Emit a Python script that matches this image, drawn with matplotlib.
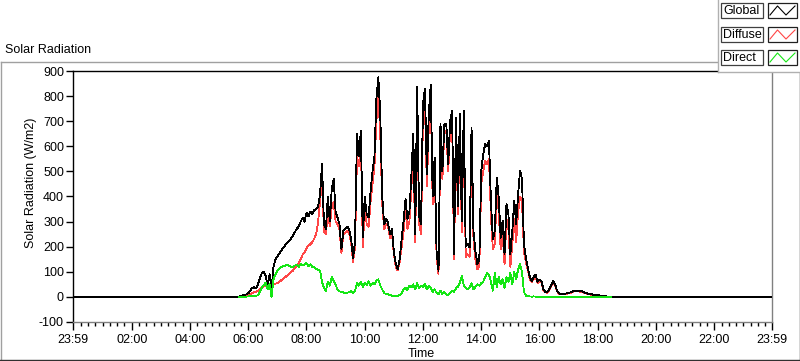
import numpy as np
import matplotlib
matplotlib.use("Agg")
import matplotlib.pyplot as plt
from matplotlib.patches import Rectangle
from matplotlib.lines import Line2D

plt.rcParams['font.family'] = ['Liberation Sans', 'DejaVu Sans']
plt.rcParams['axes.unicode_minus'] = False

# ---------------- data ----------------
day_start = -1          # 23:59 of previous day (minutes from midnight)
day_end = 1439          # 23:59
sample_start = 340      # 05:40
sample_step = 4         # minutes

global_rad = [
    0, 3, 6, 8, 10, 14, 25, 35, 38, 35,
    50, 75, 95, 100, 85, 40, 90, 30, 120, 150,
    160, 172, 185, 195, 205, 215, 222, 232, 245, 258,
    271, 280, 300, 315, 300, 335, 320, 340, 330, 345,
    350, 360, 410, 530, 290, 270, 400, 300, 430, 470,
    340, 316, 290, 190, 265, 270, 280, 270, 230, 155,
    220, 650, 560, 660, 240, 400, 330, 316, 420, 500,
    560, 790, 875, 730, 400, 290, 310, 295, 250, 270,
    180, 130, 110, 150, 230, 300, 390, 310, 340, 480,
    650, 250, 835, 320, 290, 770, 830, 490, 730, 845,
    400, 555, 183, 104, 690, 500, 688, 690, 530, 700,
    740, 170, 714, 360, 728, 300, 740, 200, 210, 197,
    675, 263, 183, 130, 145, 500, 568, 608, 600, 621,
    380, 230, 263, 476, 396, 236, 303, 170, 370, 330,
    170, 263, 383, 290, 410, 502, 470, 210, 157, 117,
    80, 64, 80, 88, 60, 68, 64, 30, 20, 18,
    30, 45, 62, 52, 26, 14, 12, 12, 12, 14,
    16, 18, 22, 24, 24, 24, 23, 22, 18, 16,
    12, 12, 10, 8, 8, 8, 6, 5, 4, 3,
    1, 0, 0,
]

diffuse_rad = [
    0, 2, 4, 6, 8, 10, 12, 15, 18, 20,
    25, 30, 38, 42, 45, 48, 52, 50, 52, 53,
    55, 60, 66, 72, 78, 85, 92, 98, 105, 115,
    123, 135, 150, 168, 178, 195, 203, 210, 218, 232,
    250, 300, 380, 470, 260, 250, 340, 280, 360, 380,
    300, 290, 270, 175, 250, 255, 262, 255, 215, 140,
    200, 560, 520, 630, 200, 360, 290, 280, 380, 450,
    520, 700, 800, 650, 370, 270, 290, 280, 235, 255,
    170, 120, 105, 140, 200, 260, 350, 270, 300, 430,
    600, 220, 780, 290, 250, 720, 770, 440, 680, 800,
    370, 520, 160, 90, 660, 470, 660, 660, 500, 670,
    700, 150, 680, 330, 690, 260, 700, 160, 170, 160,
    620, 230, 150, 110, 120, 450, 500, 540, 530, 550,
    320, 190, 210, 420, 340, 190, 250, 130, 310, 270,
    120, 210, 310, 220, 340, 400, 380, 180, 140, 105,
    72, 58, 72, 80, 55, 60, 58, 26, 18, 16,
    26, 42, 58, 48, 24, 12, 10, 10, 10, 12,
    14, 16, 20, 22, 22, 22, 21, 20, 16, 14,
    10, 10, 8, 7, 7, 7, 5, 4, 3, 2,
    1, 0, 0,
]

direct_rad = [
    0, 0, 0, 1, 1, 2, 3, 5, 4, 3,
    8, 20, 37, 45, 57, 30, 50, 0, 70, 90,
    105, 112, 118, 122, 125, 127, 124, 120, 118, 125,
    128, 120, 132, 126, 130, 135, 122, 130, 120, 118,
    112, 108, 104, 60, 37, 24, 60, 45, 80, 65,
    50, 28, 22, 20, 18, 15, 16, 20, 22, 15,
    25, 55, 45, 60, 40, 55, 48, 62, 45, 55,
    50, 65, 70, 45, 30, 15, 12, 10, 8, 5,
    3, 2, 4, 8, 15, 30, 35, 28, 45, 38,
    50, 30, 55, 35, 45, 40, 50, 30, 45, 35,
    20, 30, 15, 10, 25, 12, 20, 10, 8, 15,
    25, 20, 35, 40, 55, 85, 45, 35, 30, 38,
    55, 30, 40, 50, 45, 55, 60, 80, 95, 88,
    60, 25, 95, 40, 80, 50, 70, 35, 80, 60,
    95, 50, 100, 70, 110, 130, 100, 20, 5, 2,
    2, 1, 2, 1, 1, 0, 1, 0, 0, 1,
    1, 0, 0, 1, 0, 0, 0, 0, 0, 0,
    0, 0, 0, 0, 0, 0, 0, 0, 0, 0,
    0, 0, 0, 0, 0, 0, 0, 0, 0, 0,
    0, 0, 0,
]

major_ticks = [-1, 120, 240, 360, 480, 600, 720, 840, 960, 1080, 1200, 1320, 1439]
major_labels = ['23:59', '02:00', '04:00', '06:00', '08:00', '10:00', '12:00',
                '14:00', '16:00', '18:00', '20:00', '22:00', '23:59']
y_ticks = [-100, 0, 100, 200, 300, 400, 500, 600, 700, 800, 900]

series_names = ['Global', 'Diffuse', 'Direct']
series_colors = ['#000000', '#ff4646', '#14e614']

# ---------------- figure ----------------
W, H = 800, 361
FS = 9
fig = plt.figure(figsize=(W / 100, H / 100), dpi=100, facecolor='white')

def fx(x):
    return x / W

def fy(y):
    return 1 - y / H

ax_l, ax_r, ax_t, ax_b = 73, 772, 71, 322
ax = fig.add_axes([fx(ax_l), fy(ax_b), (ax_r - ax_l) / W, (ax_b - ax_t) / H])
ax.set_facecolor('white')

n = len(global_rad)
t_active = sample_start + sample_step * np.arange(n)
t_full = np.concatenate([[day_start], t_active, [day_end]])
g_full = np.concatenate([[0], global_rad, [0]])
d_full = np.concatenate([[0], diffuse_rad, [0]])

lw = 0.6
ax.plot(t_full, d_full, color=series_colors[1], lw=lw, zorder=2, antialiased=False)
ax.plot(t_full, g_full, color=series_colors[0], lw=lw, zorder=3, antialiased=False)
ax.plot(t_active, direct_rad, color=series_colors[2], lw=lw, zorder=4, antialiased=False)

ax.set_xlim(day_start, day_end)
ax.set_ylim(-100, 900)
ax.set_xticks(major_ticks)
ax.set_xticklabels(major_labels)
minor = [m for m in range(15, 1440, 15) if m % 120 != 0]
ax.set_xticks(minor, minor=True)
ax.set_yticks(y_ticks)
ax.set_yticklabels([str(v) for v in y_ticks])

ax.tick_params(axis='x', which='major', length=6, width=1, direction='out',
               labelsize=FS, pad=2.5, color='black')
ax.tick_params(axis='x', which='minor', length=3, width=1, direction='out', color='black')
ax.tick_params(axis='y', which='major', length=5, width=1, direction='out',
               labelsize=FS, pad=1.5, color='black')

for side in ['left', 'top']:
    ax.spines[side].set_color('black')
    ax.spines[side].set_linewidth(1.0)
for side in ['right', 'bottom']:
    ax.spines[side].set_color('#808080')
    ax.spines[side].set_linewidth(1.0)

# texts
fig.text(fx(5), fy(50), 'Solar Radiation', ha='left', va='center', fontsize=FS)
fig.text(fx(421), fy(354), 'Time', ha='center', va='center', fontsize=FS)
fig.text(fx(31), fy(183), 'Solar Radiation (W/m2)', ha='center', va='center',
         rotation=90, fontsize=FS)

# outer frame
def fline(x0, y0, x1, y1, color, lw=1.0, z=6):
    fig.add_artist(Line2D([fx(x0), fx(x1)], [fy(y0), fy(y1)], color=color,
                          lw=lw, transform=fig.transFigure, zorder=z))

fline(0.5, 61.5, 718, 61.5, '#a0a0a0')
fline(0.5, 61.5, 0.5, 360, '#a0a0a0')
fline(0, 360, 800, 360, '#303030')
fline(799.5, 72, 799.5, 360, '#303030')

# legend panel
fig.add_artist(Rectangle((fx(717.5), fy(72)), (800 - 717.5) / W, 72 / H,
                         transform=fig.transFigure, facecolor='white',
                         edgecolor='none', zorder=7))
fline(717.5, 0, 717.5, 72, '#b0b0b0', z=8)
fline(717.5, 72, 800, 72, '#b0b0b0', z=8)

rows = [(3, 18), (27, 42), (50, 65)]
for (y0, y1), name, col in zip(rows, series_names, series_colors):
    fig.add_artist(Rectangle((fx(721), fy(y1)), (763 - 721) / W, (y1 - y0) / H,
                             transform=fig.transFigure, facecolor='white',
                             edgecolor='#404040', lw=0.9, zorder=9))
    fig.text(fx(723), fy((y0 + y1) / 2 + 0.5), name, ha='left', va='center',
             fontsize=FS, zorder=10)
    fig.add_artist(Rectangle((fx(768), fy(y1)), (797 - 768) / W, (y1 - y0) / H,
                             transform=fig.transFigure, facecolor='white',
                             edgecolor='#202020', lw=0.9, zorder=9))
    zx = [770, 777.5, 786, 795]
    zy = [y1 - 3, y0 + 3, y1 - 3, y0 + 3]
    fig.add_artist(Line2D([fx(v) for v in zx], [fy(v) for v in zy], color=col,
                          lw=0.8, transform=fig.transFigure, zorder=10))

fig.savefig('out.png', dpi=100, facecolor='white')
